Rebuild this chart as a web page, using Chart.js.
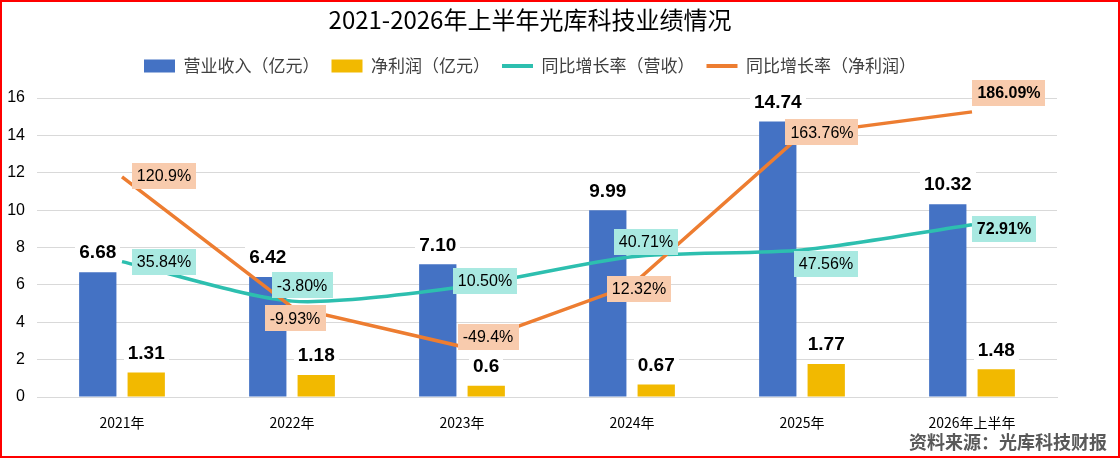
<!DOCTYPE html>
<html>
<head>
<meta charset="utf-8">
<title>光库科技业绩情况</title>
<script src="https://cdn.jsdelivr.net/npm/chart.js@4.4.1/dist/chart.umd.min.js"></script>
<style>
  html, body { margin: 0; padding: 0; background: #fff; }
  #wrap { width: 1120px; height: 458px; }
</style>
</head>
<body>
<div id="wrap"><canvas id="chart" width="1120" height="458"></canvas></div>
<script>
"use strict";

// Data
const categories = ["2021年", "2022年", "2023年", "2024年", "2025年", "2026年上半年"];
const revenue = [6.68, 6.42, 7.10, 9.99, 14.74, 10.32];
const netProfit = [1.31, 1.18, 0.6, 0.67, 1.77, 1.48];
const revenueGrowth = [35.84, -3.80, 10.50, 40.71, 47.56, 72.91];
const profitGrowth = [120.9, -9.93, -49.4, 12.32, 163.76, 186.09];

// Label texts as printed on the chart
const revenueText = ["6.68", "6.42", "7.10", "9.99", "14.74", "10.32"];
const netProfitText = ["1.31", "1.18", "0.6", "0.67", "1.77", "1.48"];
const revenueGrowthText = ["35.84%", "-3.80%", "10.50%", "40.71%", "47.56%", "72.91%"];
const profitGrowthText = ["120.9%", "-9.93%", "-49.4%", "12.32%", "163.76%", "186.09%"];

// Where each growth label box sits relative to its point (px)
const revenueGrowthOffset = [[42, 0], [10, -16], [23, -6], [14, -15], [24, 14], [32, 4]];
const profitGrowthOffset = [[42, -1], [3, 11], [26, -10], [7, 4], [20, -2], [37, -19]];

const BLUE = "#4472C4";
const GOLD = "#F2B900";
const TEAL = "#2DBFAF";
const ORANGE = "#ED7D31";
const NUM_FONT = '"Liberation Sans", Arial, sans-serif';
const CJK_FONT = '"Noto Sans CJK SC", "Noto Sans", sans-serif';

// Draws a text centred in a filled box
function drawBox(ctx, text, cx, cy, font, fill, padX, h) {
	ctx.font = font;
	const w = ctx.measureText(text).width + padX * 2;
	ctx.fillStyle = fill;
	ctx.fillRect(Math.round(cx - w / 2), Math.round(cy - h / 2), Math.round(w), h);
	ctx.fillStyle = "#000";
	ctx.textAlign = "center";
	ctx.textBaseline = "middle";
	ctx.fillText(text, cx, cy + 1);
}

const labelPlugin = {
	id: "valueLabels",
	afterDatasetsDraw(chart) {
		const ctx = chart.ctx;
		ctx.save();

		// Bar values, white boxes above the bars
		[[0, revenueText], [1, netProfitText]].forEach(function ([di, texts]) {
			chart.getDatasetMeta(di).data.forEach(function (bar, i) {
				drawBox(ctx, texts[i], bar.x, bar.y - 20, "bold 19px " + NUM_FONT, "#fff", 4, 24);
			});
		});

		// Growth rates, coloured boxes next to the points
		const lines = [
			[2, revenueGrowthText, revenueGrowthOffset, "#A9E9E1"],
			[3, profitGrowthText, profitGrowthOffset, "#F8CBAD"],
		];
		lines.forEach(function ([di, texts, offsets, fill]) {
			const pts = chart.getDatasetMeta(di).data;
			pts.forEach(function (pt, i) {
				const weight = i === pts.length - 1 ? "bold " : "";
				drawBox(ctx, texts[i], pt.x + offsets[i][0], pt.y + offsets[i][1], weight + "16px " + NUM_FONT, fill, 5, 26);
			});
		});
		ctx.restore();
	},
	afterDraw(chart) {
		const ctx = chart.ctx;
		ctx.save();
		ctx.fillStyle = "#595959";
		ctx.font = "bold 18px " + CJK_FONT;
		ctx.textAlign = "right";
		ctx.textBaseline = "middle";
		ctx.fillText("资料来源：光库科技财报", 1107, 442);

		ctx.strokeStyle = "#FF0000";
		ctx.lineWidth = 2;
		ctx.strokeRect(1, 1, chart.width - 2, chart.height - 2);
		ctx.restore();
	},
};

new Chart(document.getElementById("chart"), {
	data: {
		labels: categories,
		datasets: [
			{
				type: "bar",
				label: "营业收入（亿元）",
				data: revenue,
				backgroundColor: BLUE,
				yAxisID: "y",
				order: 3,
				categoryPercentage: 0.57,
				barPercentage: 0.77,
			},
			{
				type: "bar",
				label: "净利润（亿元）",
				data: netProfit,
				backgroundColor: GOLD,
				yAxisID: "y",
				order: 4,
				categoryPercentage: 0.57,
				barPercentage: 0.77,
			},
			{
				type: "line",
				label: "同比增长率（营收）",
				data: revenueGrowth,
				borderColor: TEAL,
				backgroundColor: TEAL,
				borderWidth: 3.5,
				pointRadius: 0,
				tension: 0.25,
				yAxisID: "y1",
				order: 2,
			},
			{
				type: "line",
				label: "同比增长率（净利润）",
				data: profitGrowth,
				borderColor: ORANGE,
				backgroundColor: ORANGE,
				borderWidth: 3.5,
				pointRadius: 0,
				tension: 0,
				yAxisID: "y1",
				order: 1,
			},
		],
	},
	options: {
		responsive: false,
		animation: false,
		devicePixelRatio: 1,
		layout: { padding: { left: 0, right: 60, top: 0, bottom: 27 } },
		plugins: {
			tooltip: { enabled: false },
			title: {
				display: true,
				text: "2021-2026年上半年光库科技业绩情况",
				color: "#000",
				font: { family: CJK_FONT, size: 24, weight: "normal", lineHeight: 1.25 },
				padding: { top: 5, bottom: 10.5 },
			},
			// empty spacer between legend and plot
			subtitle: {
				display: true,
				text: "",
				weight: 500,
				font: { size: 1, lineHeight: 1 },
				padding: { top: 12.5, bottom: 0 },
			},
			legend: {
				position: "top",
				labels: {
					usePointStyle: true,
					pointStyleWidth: 31,
					boxHeight: 13,
					padding: 12,
					color: "#404040",
					font: { family: CJK_FONT, size: 17 },
					generateLabels(chart) {
						return chart.data.datasets.map(function (ds, i) {
							const isBar = ds.type === "bar";
							const c = isBar ? ds.backgroundColor : ds.borderColor;
							return {
								text: ds.label,
								fillStyle: c,
								strokeStyle: c,
								lineWidth: isBar ? 0 : 4,
								pointStyle: isBar ? "rect" : "line",
								fontColor: "#404040",
								hidden: false,
								datasetIndex: i,
							};
						});
					},
				},
			},
		},
		scales: {
			x: {
				grid: { display: false },
				border: { display: true, color: "#D9D9D9" },
				ticks: { color: "#000", padding: 9, font: { family: CJK_FONT, size: 14 } },
				afterFit(scale) {
					scale.height = 34;
				},
			},
			y: {
				position: "left",
				min: 0,
				max: 16,
				ticks: { stepSize: 2, padding: 12, color: "#000", font: { family: NUM_FONT, size: 16 } },
				grid: { color: "#D9D9D9", drawTicks: false },
				border: { display: false },
				afterFit(scale) {
					scale.width = 37;
				},
			},
			y1: {
				position: "right",
				min: -100,
				max: 200,
				ticks: {
					stepSize: 50,
					padding: 11,
					color: "#000",
					font: { family: NUM_FONT, size: 16 },
					callback: (v) => v + "%",
				},
				grid: { drawOnChartArea: false, drawTicks: false },
				border: { display: false },
				afterFit(scale) {
					scale.width = 3;
				},
			},
		},
	},
	plugins: [labelPlugin],
});
</script>
</body>
</html>
